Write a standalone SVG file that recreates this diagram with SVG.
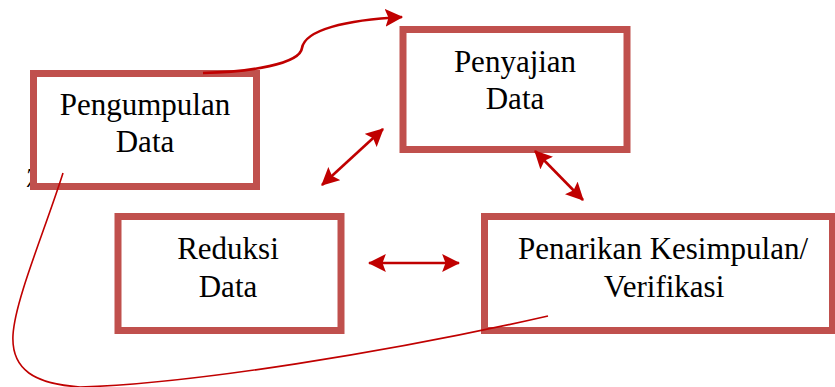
<svg xmlns="http://www.w3.org/2000/svg" width="835" height="387" viewBox="0 0 835 387">
<style>
.box{fill:#ffffff;stroke:#c0504d;stroke-width:7}
.lbl{font-family:"Liberation Serif","Times New Roman",serif;font-size:31px;fill:#000000;text-anchor:middle}
.arr{fill:none;stroke:#c00000;stroke-width:2.6}
.thin{fill:none;stroke:#c00000;stroke-width:1.6}
</style>
<defs>
<marker id="ah" markerUnits="userSpaceOnUse" markerWidth="18" markerHeight="18" refX="15" refY="8" orient="auto-start-reverse" viewBox="0 0 16 16">
<path d="M0,0 L16,8 L0,16 L3,8 z" fill="#c00000"/>
</marker>
</defs>
<text x="25" y="187" style="font-family:'Liberation Serif',serif;font-size:28px;font-style:italic;fill:#000">7</text>
<g id="pengumpulan">
<rect class="box" x="33.5" y="73.5" width="223" height="113"/>
<text class="lbl" x="145" y="115">Pengumpulan</text>
<text class="lbl" x="145" y="152">Data</text>
</g>
<g id="penyajian">
<rect class="box" x="403" y="29.5" width="224" height="120"/>
<text class="lbl" x="515" y="72">Penyajian</text>
<text class="lbl" x="515" y="109">Data</text>
</g>
<g id="reduksi">
<rect class="box" x="118" y="216.5" width="223" height="114"/>
<text class="lbl" x="228" y="259">Reduksi</text>
<text class="lbl" x="228" y="297">Data</text>
</g>
<g id="penarikan">
<rect class="box" x="484.5" y="216.5" width="348" height="114"/>
<text class="lbl" x="663" y="259">Penarikan Kesimpulan/</text>
<text class="lbl" x="664" y="297">Verifikasi</text>
</g>
<g id="connectors">
<path class="arr" d="M322,185 L383,129" marker-start="url(#ah)" marker-end="url(#ah)"/>
<path class="arr" d="M535,151 L583,200" marker-start="url(#ah)" marker-end="url(#ah)"/>
<path class="arr" d="M369,263 L459,263" marker-start="url(#ah)" marker-end="url(#ah)"/>
<path class="arr" d="M203,73 C250,72 300,64 302,48 C305,30 345,20 402,17" marker-end="url(#ah)"/>
<path class="thin" d="M63,173 C45,230 15,300 13,335 C11,370 35,384 80,387 C190,384 390,352 548,316"/>
</g>
</svg>
